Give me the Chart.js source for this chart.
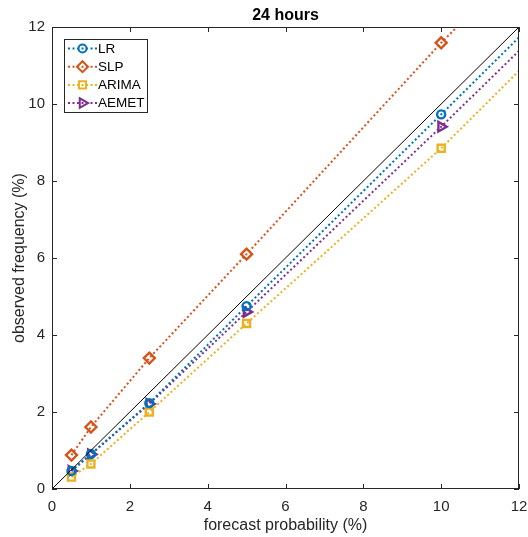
<!DOCTYPE html>
<html>
<head>
<meta charset="utf-8">
<script src="https://cdn.jsdelivr.net/npm/chart.js"></script>
<style>
  html, body { margin: 0; padding: 0; background: #fff; }
  #wrap { width: 528px; height: 537px; }
</style>
</head>
<body>
<div id="wrap"><canvas id="calib" width="528" height="537"></canvas></div>
<script>
//-------------------------------------------------------------
// Data
//-------------------------------------------------------------
// forecast probabilities; the last entry is where each dotted line leaves the axes
const forecastProb = [0.5, 1, 2.5, 5, 10, 12];
const lrObs    = [0.47, 0.91, 2.23, 4.75, 9.73, 11.73];
const slpObs   = [0.88, 1.61, 3.40, 6.10, 11.59, 13.6];
const arimaObs = [0.31, 0.65, 2.00, 4.30, 8.85, 10.86];
const aemetObs = [0.47, 0.90, 2.21, 4.60, 9.41, 11.38];
const diagX = [0, 12];
const diagY = [0, 12];
const axisTicks = [0, 2, 4, 6, 8, 10, 12];

const FONT = "'Liberation Sans', Arial, Helvetica, sans-serif";
const TXT = "#262626";

const seriesDefs = [
  { label: "LR",    values: lrObs,    color: "#0072BD", style: "circle",  radius: 4,   rot: 0 },
  { label: "SLP",   values: slpObs,   color: "#D95319", style: "rectRot", radius: 5.5, rot: 0 },
  { label: "ARIMA", values: arimaObs, color: "#EDB120", style: "rect",    radius: 5,   rot: 0 },
  { label: "AEMET", values: aemetObs, color: "#7E2F8E", style: "triangle", radius: 5.5, rot: 90 },
];

const toPoints = (xs, ys) => xs.map((x, i) => ({ x, y: ys[i] }));

//-------------------------------------------------------------
// Datasets
//-------------------------------------------------------------
const datasets = [
  {
    label: "y = x",
    data: toPoints(diagX, diagY),
    showLine: true,
    borderColor: "#000",
    borderWidth: 1,
    pointRadius: 0,
  },
  ...seriesDefs.map((s) => ({
    label: s.label,
    data: toPoints(forecastProb, s.values),
    showLine: true,
    borderColor: s.color,
    borderWidth: 2,
    borderDash: [2, 2.5],
    pointStyle: s.style,
    pointRotation: s.rot,
    pointRadius: forecastProb.map((x) => (x > 10 ? 0 : s.radius)),
    pointBorderWidth: 2.4,
    pointBorderColor: s.color,
    pointBackgroundColor: "rgba(0,0,0,0)",
  })),
];

//-------------------------------------------------------------
// Box, inward ticks and legend (MATLAB look)
//-------------------------------------------------------------
const matlabFrame = {
  id: "matlabFrame",
  afterDraw(chart) {
    const { ctx, chartArea: a, scales } = chart;
    ctx.save();
    ctx.strokeStyle = TXT;
    ctx.lineWidth = 1;
    ctx.setLineDash([]);
    ctx.strokeRect(a.left + 0.5, a.top + 0.5, a.right - a.left - 1, a.bottom - a.top - 1);
    const tl = 5;
    ctx.beginPath();
    for (const v of axisTicks) {
      const px = Math.round(scales.x.getPixelForValue(v)) + 0.5;
      ctx.moveTo(px, a.bottom); ctx.lineTo(px, a.bottom - tl);
      ctx.moveTo(px, a.top); ctx.lineTo(px, a.top + tl);
      const py = Math.round(scales.y.getPixelForValue(v)) + 0.5;
      ctx.moveTo(a.left, py); ctx.lineTo(a.left + tl, py);
      ctx.moveTo(a.right, py); ctx.lineTo(a.right - tl, py);
    }
    ctx.stroke();

    // legend
    const bx = a.left + 12, by = a.top + 12, bw = 83, bh = 73;
    ctx.fillStyle = "#fff";
    ctx.fillRect(bx, by, bw, bh);
    ctx.strokeRect(bx + 0.5, by + 0.5, bw, bh);
    ctx.font = "13.5px " + FONT;
    ctx.textBaseline = "middle";
    seriesDefs.forEach((s, i) => {
      const y = by + 9.5 + i * 18.2;
      ctx.strokeStyle = s.color;
      ctx.lineWidth = 2;
      ctx.setLineDash([2, 2.5]);
      ctx.beginPath();
      ctx.moveTo(bx + 4, y); ctx.lineTo(bx + 33, y);
      ctx.stroke();
      ctx.setLineDash([]);
      ctx.fillStyle = "rgba(0,0,0,0)";
      Chart.helpers.drawPoint(ctx, {
        pointStyle: s.style, radius: s.radius, rotation: s.rot, borderWidth: 2.4,
      }, bx + 18.5, y);
      ctx.fillStyle = "#000";
      ctx.fillText(s.label, bx + 34, y + 0.5);
    });
    ctx.restore();
  },
};

//-------------------------------------------------------------
// Chart
//-------------------------------------------------------------
new Chart(document.getElementById("calib"), {
  type: "scatter",
  data: { datasets },
  options: {
    responsive: false,
    animation: false,
    events: [],
    layout: { padding: { left: 0, right: 9, top: 0, bottom: 0 } },
    plugins: {
      legend: { display: false },
      tooltip: { enabled: false },
      title: {
        display: true,
        text: "24 hours",
        fullSize: false,
        color: "#000",
        font: { family: FONT, size: 16, weight: "bold" },
        padding: { top: 6, bottom: 1.8 },
      },
    },
    scales: {
      x: {
        type: "linear",
        min: 0, max: 12,
        afterBuildTicks: (s) => { s.ticks = axisTicks.map((v) => ({ value: v })); },
        afterFit: (s) => { s.height = 48; s.paddingLeft = 0; s.paddingRight = 0; },
        grid: { display: false, drawTicks: false },
        border: { display: false },
        ticks: { color: TXT, padding: 9, font: { family: FONT, size: 15 }, maxRotation: 0 },
        title: {
          display: true,
          text: "forecast probability (%)",
          color: TXT,
          font: { family: FONT, size: 16 },
          padding: { top: 0, bottom: 1.5 },
        },
      },
      y: {
        type: "linear",
        min: 0, max: 12,
        afterBuildTicks: (s) => { s.ticks = axisTicks.map((v) => ({ value: v })); },
        afterFit: (s) => { s.width = 52; s.paddingTop = 0; s.paddingBottom = 0; },
        grid: { display: false, drawTicks: false },
        border: { display: false },
        ticks: { color: TXT, padding: 7, font: { family: FONT, size: 15 } },
        title: {
          display: true,
          text: "observed frequency (%)",
          color: TXT,
          font: { family: FONT, size: 16 },
          padding: { top: 10, bottom: 0 },
        },
      },
    },
  },
  plugins: [matlabFrame],
});
</script>
</body>
</html>
